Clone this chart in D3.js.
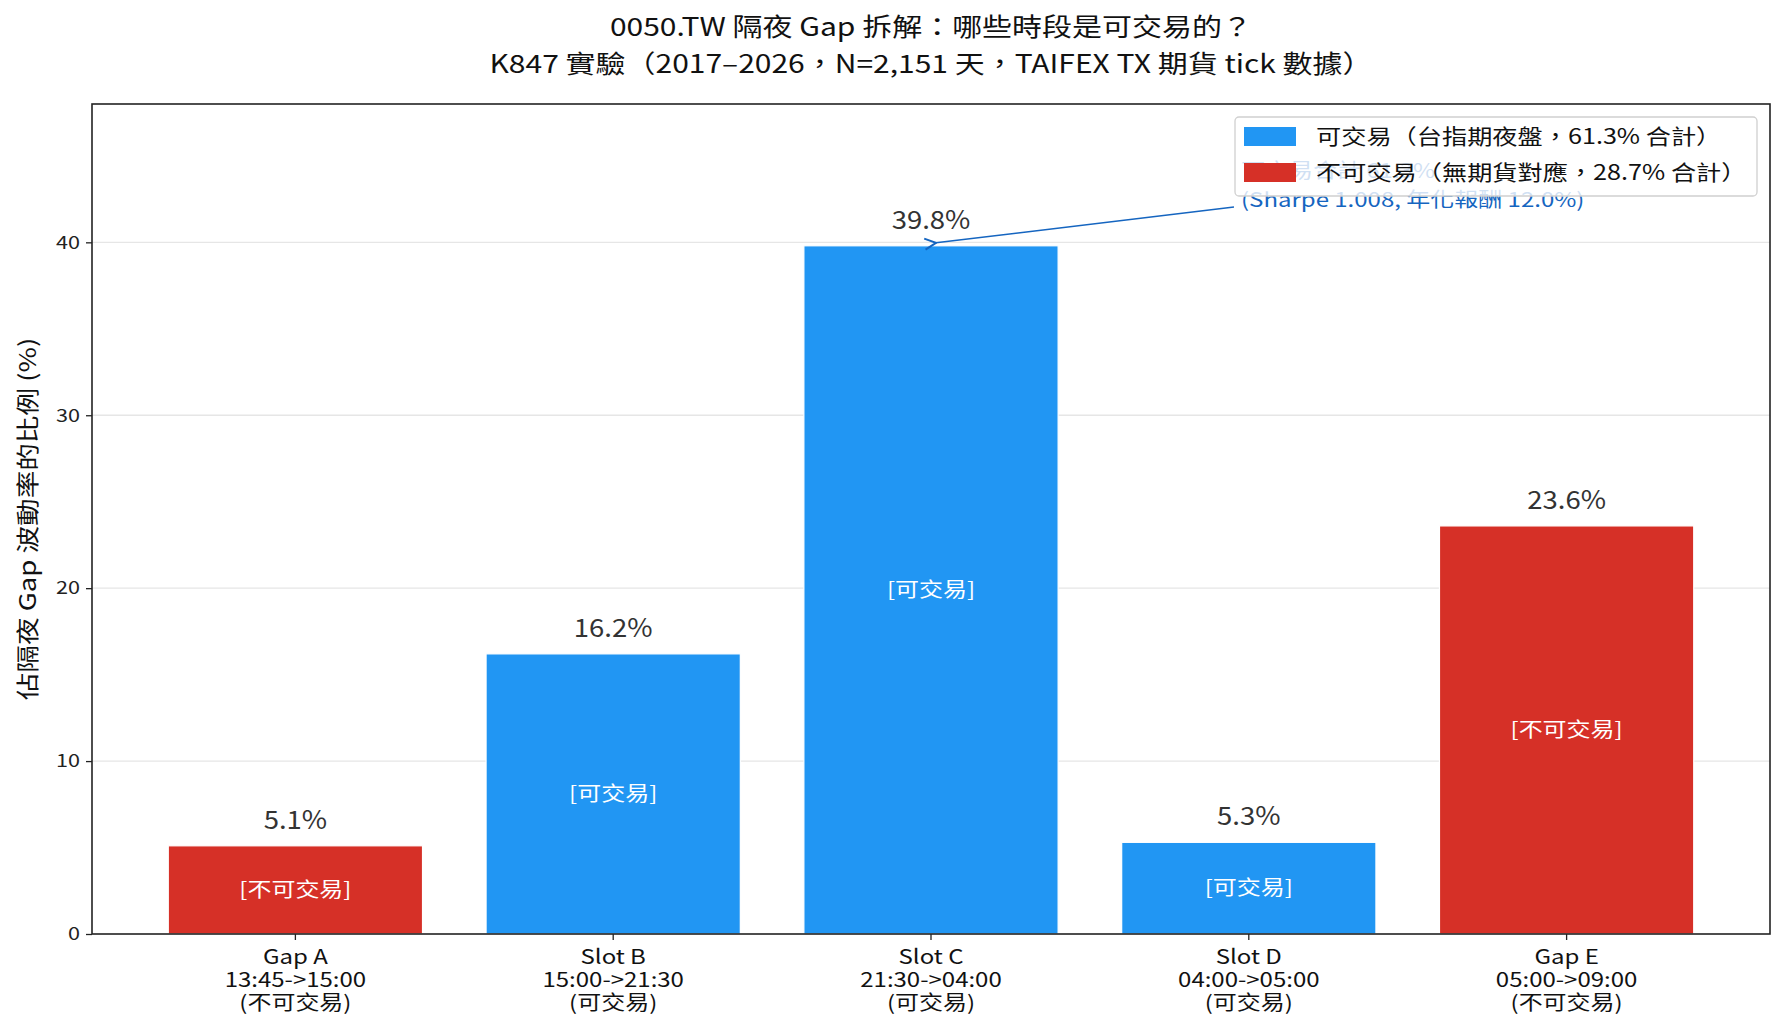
<!DOCTYPE html>
<html>
<head>
<meta charset="utf-8">
<script src="https://cdn.jsdelivr.net/npm/d3@7"></script>
<style>
  body { margin: 0; background: #fff; }
  text { font-family: "Noto Sans CJK TC", "Noto Sans", sans-serif; }
</style>
</head>
<body>
<script>
// chart data
var slotNames = ["Gap A", "Slot B", "Slot C", "Slot D", "Gap E"];
var slotTimes = ["13:45->15:00", "15:00->21:30", "21:30->04:00", "04:00->05:00", "05:00->09:00"];
var slotTrade = ["(不可交易)", "(可交易)", "(可交易)", "(可交易)", "(不可交易)"];
var shareValues = [5.1, 16.2, 39.8, 5.3, 23.6];
var tradable = [false, true, true, true, false];
var yTicks = [0, 10, 20, 30, 40];
var legendLabels = ["可交易（台指期夜盤，61.3% 合計）", "不可交易（無期貨對應，28.7% 合計）"];
var noteLines = ["可交易合計 61.3%", "(Sharpe 1.008, 年化報酬 12.0%)"];

var svgWidth = 1784;
var svgHeight = 1032;
var margin = { top: 104, right: 14, bottom: 98, left: 92 };
var chartWidth = svgWidth - margin.left - margin.right;
var chartHeight = svgHeight - margin.top - margin.bottom;

var blue = "#2196F3";
var red = "#D63027";
// the reference text is a bit wider than the installed font, stretch it
var wide = 1.2;

function stretch(sel, sx) {
  sel.each(function() {
    var t = d3.select(this);
    var x = +t.attr("x") || 0;
    var y = +t.attr("y") || 0;
    var tr = t.attr("transform") || "";
    t.attr("x", 0).attr("y", 0)
      .attr("transform", `${tr} translate(${x},${y}) scale(${sx},1)`);
  });
}

var svg = d3.select("body")
  .append("svg")
  .attr("width", svgWidth)
  .attr("height", svgHeight);

var chartGroup = svg.append("g")
  .attr("transform", `translate(${margin.left}, ${margin.top})`);

var xScale = d3.scaleBand()
  .domain(slotNames)
  .range([0, chartWidth])
  .paddingInner(0.2)
  .paddingOuter(0.24);

var yScale = d3.scaleLinear()
  .domain([0, 48])
  .range([chartHeight, 0]);

// grid lines
chartGroup.selectAll(".grid")
  .data(yTicks.filter(d => d > 0))
  .enter()
  .append("line")
  .attr("x1", 0)
  .attr("x2", chartWidth)
  .attr("y1", d => yScale(d))
  .attr("y2", d => yScale(d))
  .attr("stroke", "#e6e6e6")
  .attr("stroke-width", 1.3);

// bars
var barData = slotNames.map((name, i) => ({ name: name, value: shareValues[i], ok: tradable[i] }));

chartGroup.selectAll(".bar")
  .data(barData)
  .enter()
  .append("rect")
  .attr("x", d => xScale(d.name))
  .attr("y", d => yScale(d.value))
  .attr("width", xScale.bandwidth())
  .attr("height", d => chartHeight - yScale(d.value))
  .attr("fill", d => d.ok ? blue : red)
  .attr("stroke", "#fff")
  .attr("stroke-width", 1.2);

// value labels
chartGroup.selectAll(".val")
  .data(barData)
  .enter()
  .append("text")
  .attr("x", d => xScale(d.name) + xScale.bandwidth() / 2)
  .attr("y", d => yScale(d.value) - 17)
  .attr("text-anchor", "middle")
  .attr("font-size", 25)
  .attr("fill", "#333")
  .text(d => d.value.toFixed(1) + "%")
  .call(stretch, 1.1);

// inner labels
chartGroup.selectAll(".inner")
  .data(barData)
  .enter()
  .append("text")
  .attr("x", d => xScale(d.name) + xScale.bandwidth() / 2)
  .attr("y", d => (yScale(d.value) + chartHeight) / 2)
  .attr("dy", "0.35em")
  .attr("text-anchor", "middle")
  .attr("font-size", 20)
  .attr("fill", "#fff")
  .text(d => d.ok ? "[可交易]" : "[不可交易]")
  .call(stretch, wide);

// y axis
var yAxis = chartGroup.append("g")
  .call(d3.axisLeft(yScale).tickValues(yTicks).tickSize(6).tickPadding(6));
yAxis.select(".domain").remove();
yAxis.selectAll("line").attr("stroke", "#222").attr("stroke-width", 1.3);
yAxis.selectAll("text").attr("font-size", 18).attr("fill", "#222")
  .style("font-family", "'Noto Sans CJK TC', sans-serif")
  .call(stretch, wide);

// x axis with three-line labels
var xAxis = chartGroup.append("g")
  .attr("transform", `translate(0, ${chartHeight})`)
  .call(d3.axisBottom(xScale).tickSize(6).tickFormat(""));
xAxis.select(".domain").remove();
xAxis.selectAll("line").attr("stroke", "#222").attr("stroke-width", 1.3);
xAxis.selectAll(".tick").each(function(name, i) {
  var t = d3.select(this).append("text")
    .attr("text-anchor", "middle")
    .attr("font-size", 20)
    .attr("fill", "#111");
  [slotNames[i], slotTimes[i], slotTrade[i]].forEach((line, k) => {
    t.append("tspan").attr("x", 0).attr("y", 30 + k * 23).text(line);
  });
  stretch(t, wide);
});

// frame
chartGroup.append("rect")
  .attr("width", chartWidth)
  .attr("height", chartHeight)
  .attr("fill", "none")
  .attr("stroke", "#222")
  .attr("stroke-width", 1.6);

// annotation
var noteColor = "#1565C0";
svg.append("defs").append("marker")
  .attr("id", "arrow")
  .attr("viewBox", "0 0 10 10")
  .attr("refX", 1).attr("refY", 5)
  .attr("markerWidth", 14).attr("markerHeight", 14)
  .attr("markerUnits", "userSpaceOnUse")
  .attr("orient", "auto-start-reverse")
  .append("path")
  .attr("d", "M9,1 L1,5 L9,9")
  .attr("fill", "none")
  .attr("stroke", noteColor)
  .attr("stroke-width", 1.4);

var noteX = xScale("Slot C") + xScale.bandwidth() / 2 + 5;
chartGroup.append("line")
  .attr("x1", 1142)
  .attr("y1", 103)
  .attr("x2", noteX)
  .attr("y2", yScale(39.8) - 3)
  .attr("stroke", noteColor)
  .attr("stroke-width", 1.6)
  .attr("marker-end", "url(#arrow)");

noteLines.forEach((line, i) => {
  chartGroup.append("text")
    .attr("x", 1149)
    .attr("y", 74 + i * 29)
    .attr("font-size", 20)
    .attr("fill", noteColor)
    .text(line)
    .call(stretch, wide);
});

// legend
var legend = chartGroup.append("g")
  .attr("transform", "translate(1143, 13)");
legend.append("rect")
  .attr("width", 522)
  .attr("height", 79)
  .attr("rx", 4)
  .attr("fill", "#fff")
  .attr("fill-opacity", 0.8)
  .attr("stroke", "#d0d0d0")
  .attr("stroke-width", 1.3);
legendLabels.forEach((label, i) => {
  legend.append("rect")
    .attr("x", 9)
    .attr("y", 10 + i * 36)
    .attr("width", 52)
    .attr("height", 19)
    .attr("fill", i === 0 ? blue : red);
  legend.append("text")
    .attr("x", 81)
    .attr("y", 20 + i * 36)
    .attr("dy", "0.35em")
    .attr("font-size", 21)
    .attr("fill", "#111")
    .text(label)
    .call(stretch, wide);
});

// title
var titleLines = ["0050.TW 隔夜 Gap 拆解：哪些時段是可交易的？",
  "K847 實驗（2017–2026，N=2,151 天，TAIFEX TX 期貨 tick 數據）"];
titleLines.forEach((line, i) => {
  svg.append("text")
    .attr("x", margin.left + chartWidth / 2)
    .attr("y", 36 + i * 37)
    .attr("text-anchor", "middle")
    .attr("font-size", 25)
    .attr("fill", "#111")
    .text(line)
    .call(stretch, wide);
});

// y label
svg.append("text")
  .attr("transform", `translate(36, ${margin.top + chartHeight / 2}) rotate(-90)`)
  .attr("text-anchor", "middle")
  .attr("font-size", 23)
  .attr("fill", "#111")
  .text("佔隔夜 Gap 波動率的比例 (%)")
  .call(stretch, wide);
</script>
</body>
</html>
